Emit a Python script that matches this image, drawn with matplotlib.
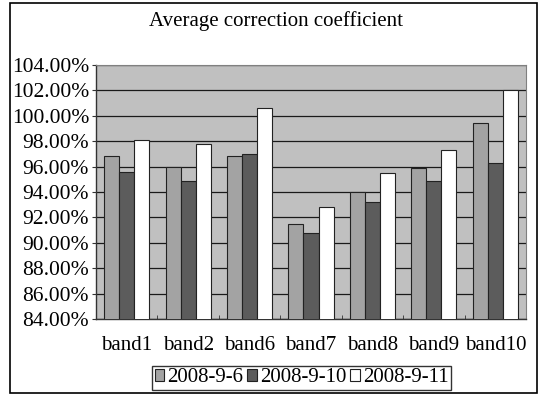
import matplotlib
matplotlib.use("Agg")
import matplotlib.pyplot as plt
import numpy as np
from matplotlib.patches import Rectangle
from matplotlib.ticker import FuncFormatter, MultipleLocator

plt.rcParams['font.family'] = ['Liberation Serif', 'DejaVu Serif']

bands = ["band1", "band2", "band6", "band7", "band8", "band9", "band10"]
dates = ["2008-9-6", "2008-9-10", "2008-9-11"]
v_0906 = [96.8, 96.0, 96.8, 91.5, 94.0, 95.9, 99.4]
v_0910 = [95.6, 94.9, 97.0, 90.8, 93.2, 94.9, 96.3]
v_0911 = [98.1, 97.8, 100.6, 92.8, 95.5, 97.3, 102.0]
series = [v_0906, v_0910, v_0911]
colors = ["#a3a3a3", "#5c5c5c", "#ffffff"]

fig = plt.figure(figsize=(5.45, 3.94), dpi=100)
fig.patch.set_facecolor("white")

# outer chart border
W, H = 545, 394
fig.patches.append(Rectangle((10 / W, 1 - 393 / H), (537 - 10) / W, (393 - 3) / H,
                             transform=fig.transFigure, fill=False,
                             edgecolor="black", linewidth=1.2, zorder=0))

ax = fig.add_axes([96 / W, 1 - 319 / H, (526 - 96) / W, (319 - 65) / H])
ax.set_facecolor("#c0c0c0")

x = np.arange(len(bands))
bw = 0.245
for i, (vals, c, lab) in enumerate(zip(series, colors, dates)):
    ax.bar(x + (i - 1) * bw, vals, width=bw, bottom=0, color=c,
           edgecolor="#222222", linewidth=0.8, label=lab, zorder=3)

ax.set_xlim(-0.5, len(bands) - 0.5)
ax.set_ylim(84, 104)
ax.yaxis.set_major_locator(MultipleLocator(2))
ax.yaxis.set_major_formatter(FuncFormatter(lambda v, p: f"{v:.2f}%"))
ax.yaxis.grid(True, color="#1a1a1a", linewidth=0.9, zorder=1)
ax.set_axisbelow(True)

ax.set_xticks(x)
ax.set_xticklabels(bands)
ax.set_xticks(np.arange(len(bands) + 1) - 0.5, minor=True)
ax.tick_params(axis="x", which="major", length=0, labelsize=15, pad=12)
ax.tick_params(axis="x", which="minor", length=3, direction="in", color="#333333")
ax.tick_params(axis="y", length=3, direction="out", labelsize=15.5, pad=2, color="#333333")

for s in ["top", "right"]:
    ax.spines[s].set_color("#808080")
for s in ["left", "bottom"]:
    ax.spines[s].set_color("#333333")
    ax.spines[s].set_linewidth(1.0)

fig.text(276 / W, 1 - 21 / H, "Average correction coefficient",
         ha="center", va="center", fontsize=15)

leg = fig.legend(loc="center", bbox_to_anchor=(301.5 / W, 1 - 378 / H),
                 ncol=3, fontsize=15, frameon=True, fancybox=False,
                 handlelength=0.45, handleheight=0.45, handletextpad=0.15,
                 columnspacing=0.2, borderpad=0.1, borderaxespad=0)
leg.get_frame().set_edgecolor("black")
leg.get_frame().set_linewidth(1.0)

fig.savefig("out.png", dpi=100)
